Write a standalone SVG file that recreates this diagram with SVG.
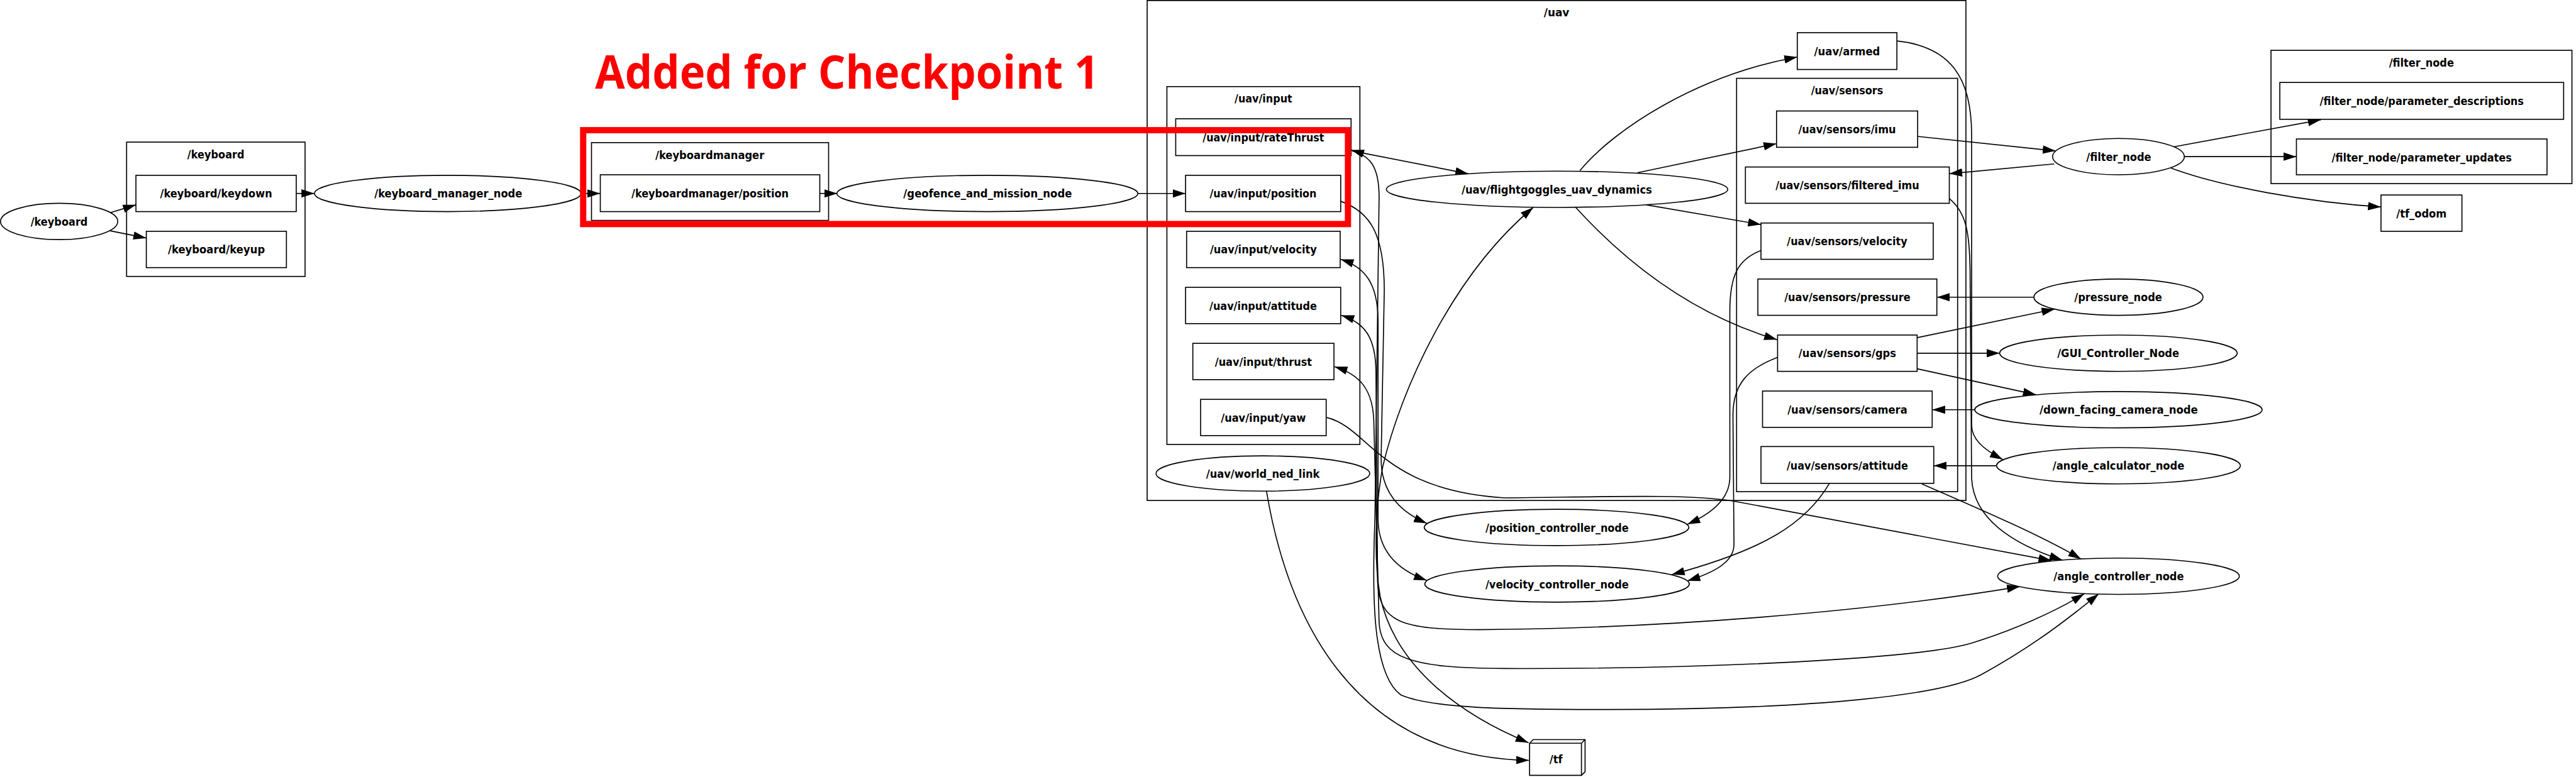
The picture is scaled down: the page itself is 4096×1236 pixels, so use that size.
<svg xmlns="http://www.w3.org/2000/svg" width="4096" height="1236" viewBox="0 0 4096 1236">
<style>
.c{fill:none;stroke:#000;stroke-width:2}
.n{fill:#fff;stroke:#000;stroke-width:2}
.e{fill:none;stroke:#000;stroke-width:2;marker-end:url(#ah)}
.b{marker-start:url(#ah)}
.t{font-family:"DejaVu Sans","Liberation Sans",sans-serif;font-weight:bold;font-size:22px;text-anchor:middle;fill:#000}
</style>
<defs>
<marker id="ah" markerUnits="userSpaceOnUse" markerWidth="26" markerHeight="18" viewBox="0 0 26 18" refX="25" refY="9" orient="auto-start-reverse"><path d="M0,1 L25,9 L0,17 z" fill="#000"/></marker>
</defs>
<rect width="4096" height="1236" fill="#fff"/>
<g transform="scale(0.825)">
<g id="clusters">
<g id="cl_keyboard"><rect class="c" x="244" y="274" width="344" height="259"/><text class="t" x="416" y="306" textLength="110" lengthAdjust="spacingAndGlyphs">/keyboard</text></g>
<g id="cl_keyboardmanager"><rect class="c" x="1140" y="275" width="457" height="150"/><text class="t" x="1368" y="307" textLength="210" lengthAdjust="spacingAndGlyphs">/keyboardmanager</text></g>
<g id="cl_uav"><rect class="c" x="2211" y="1" width="1578" height="964"/><text class="t" x="3000" y="32" textLength="49" lengthAdjust="spacingAndGlyphs">/uav</text></g>
<g id="cl_uav_input"><rect class="c" x="2249" y="167" width="372" height="690"/><text class="t" x="2435" y="198" textLength="111" lengthAdjust="spacingAndGlyphs">/uav/input</text></g>
<g id="cl_uav_sensors"><rect class="c" x="3347" y="151" width="426" height="797"/><text class="t" x="3560" y="182" textLength="139" lengthAdjust="spacingAndGlyphs">/uav/sensors</text></g>
<g id="cl_filter_node"><rect class="c" x="4377" y="97" width="580" height="257"/><text class="t" x="4667" y="129" textLength="125" lengthAdjust="spacingAndGlyphs">/filter_node</text></g>
</g>
<g id="connectors">
<path class="e" d="M210,411 L262,395"/>
<path class="e" d="M212,445 L282,459"/>
<path class="e" d="M571,373 L606,373"/>
<path class="e" d="M1120,373 L1157,373"/>
<path class="e" d="M1580,373 L1614,373"/>
<path class="e" d="M2193,373 L2285,373"/>
<path class="e" d="M2606,291 L2830,335"/>
<path class="e" d="M3045,329 C3110,250 3270,145 3464,110"/>
<path class="e" d="M3156,333 L3424,277"/>
<path class="e" d="M3173,395 L3394,433"/>
<path class="e" d="M3037,400 C3110,480 3240,600 3425,655"/>
<path class="e" d="M2557,805 C2640,825 2660,945 2900,960 C3100,958 3250,952 3340,966 L3954,1081"/>
<path class="e" d="M2584,388 C2640,408 2668,450 2668,560 L2662,880 C2660,950 2700,988 2750,1009"/>
<path class="e b" d="M2584,500 C2630,515 2656,545 2656,620 L2656,1000 C2656,1060 2690,1098 2750,1119"/>
<path class="e b" d="M2585,608 C2630,622 2652,650 2652,720 L2655,1120 C2658,1200 2700,1214 2850,1214 C3200,1212 3600,1180 3893,1131"/>
<path class="e b" d="M2572,707 C2620,722 2648,750 2648,820 L2658,1200 C2662,1270 2720,1288 2900,1289 C3300,1290 3700,1270 3800,1240 C3880,1215 3960,1180 4017,1145"/>
<path class="e b" d="M2604,289 C2640,300 2658,320 2658,380 L2650,1000 C2644,1150 2645,1300 2700,1340 C2760,1366 2900,1368 3100,1368 C3500,1368 3750,1340 3820,1300 C3920,1245 3990,1190 4045,1145"/>
<path class="e b" d="M2955,400 C2800,530 2700,750 2665,900 C2650,980 2648,1080 2660,1150 C2690,1290 2820,1380 2946,1432"/>
<path class="e" d="M2441,947 C2480,1180 2600,1460 2947,1466"/>
<path class="e" d="M3394,483 C3350,500 3334,530 3334,600 L3334,920 C3334,960 3300,990 3252,1011"/>
<path class="e" d="M3426,689 C3370,710 3340,740 3340,800 L3342,1050 C3342,1085 3300,1105 3252,1120"/>
<path class="e" d="M3526,932 C3480,1010 3400,1060 3222,1108"/>
<path class="e" d="M3704,933 C3800,975 3930,1030 4011,1078"/>
<path class="e" d="M3656,79 C3760,90 3800,150 3800,260 L3800,820 C3800,845 3820,865 3860,886"/>
<path class="e" d="M3757,383 C3790,410 3796,450 3797,520 L3800,920 C3802,1000 3880,1050 3975,1080"/>
<path class="e" d="M3696,263 L3962,291"/>
<path class="e" d="M3959,316 L3757,335"/>
<path class="e" d="M4190,283 L4473,231"/>
<path class="e" d="M4210,302 L4426,302"/>
<path class="e" d="M4184,324 C4280,360 4450,390 4589,399"/>
<path class="e" d="M3920,573 L3733,573"/>
<path class="e" d="M3695,651 L3960,596"/>
<path class="e" d="M3695,681 L3854,681"/>
<path class="e" d="M3695,711 L3924,761"/>
<path class="e" d="M3806,790 L3724,790"/>
<path class="e" d="M3848,898 L3727,898"/>
</g>
<g id="n_keyboard"><ellipse class="n" cx="114" cy="427" rx="113" ry="35"/><text class="t" x="114" y="435" textLength="110" lengthAdjust="spacingAndGlyphs">/keyboard</text></g>
<g id="n_keyboard_keydown"><rect class="n" x="262" y="338" width="309" height="70"/><text class="t" x="416.5" y="381" textLength="216" lengthAdjust="spacingAndGlyphs">/keyboard/keydown</text></g>
<g id="n_keyboard_keyup"><rect class="n" x="282" y="446" width="270" height="70"/><text class="t" x="417" y="489" textLength="187" lengthAdjust="spacingAndGlyphs">/keyboard/keyup</text></g>
<g id="n_keyboard_manager_node"><ellipse class="n" cx="863" cy="373" rx="257" ry="35"/><text class="t" x="864" y="381" textLength="285" lengthAdjust="spacingAndGlyphs">/keyboard_manager_node</text></g>
<g id="n_keyboardmanager_position"><rect class="n" x="1157" y="337" width="423" height="71"/><text class="t" x="1368.5" y="381" textLength="303" lengthAdjust="spacingAndGlyphs">/keyboardmanager/position</text></g>
<g id="n_geofence"><ellipse class="n" cx="1903" cy="373" rx="290" ry="35"/><text class="t" x="1903.5" y="381" textLength="325" lengthAdjust="spacingAndGlyphs">/geofence_and_mission_node</text></g>
<g id="n_input_rateThrust"><rect class="n" x="2266" y="229" width="338" height="71"/><text class="t" x="2435" y="273" textLength="234" lengthAdjust="spacingAndGlyphs">/uav/input/rateThrust</text></g>
<g id="n_input_position"><rect class="n" x="2285" y="338" width="299" height="70"/><text class="t" x="2434.5" y="381" textLength="206" lengthAdjust="spacingAndGlyphs">/uav/input/position</text></g>
<g id="n_input_velocity"><rect class="n" x="2287" y="446" width="296" height="70"/><text class="t" x="2435" y="489" textLength="206" lengthAdjust="spacingAndGlyphs">/uav/input/velocity</text></g>
<g id="n_input_attitude"><rect class="n" x="2285" y="554" width="299" height="70"/><text class="t" x="2434.5" y="597" textLength="207" lengthAdjust="spacingAndGlyphs">/uav/input/attitude</text></g>
<g id="n_input_thrust"><rect class="n" x="2299" y="662" width="272" height="70"/><text class="t" x="2435" y="705" textLength="187" lengthAdjust="spacingAndGlyphs">/uav/input/thrust</text></g>
<g id="n_input_yaw"><rect class="n" x="2314" y="770" width="242" height="70"/><text class="t" x="2435" y="813" textLength="164" lengthAdjust="spacingAndGlyphs">/uav/input/yaw</text></g>
<g id="n_world_ned_link"><ellipse class="n" cx="2434" cy="913" rx="206" ry="34"/><text class="t" x="2434" y="921" textLength="219" lengthAdjust="spacingAndGlyphs">/uav/world_ned_link</text></g>
<g id="n_flightgoggles"><ellipse class="n" cx="3001" cy="365" rx="329" ry="35"/><text class="t" x="3000.5" y="373" textLength="367" lengthAdjust="spacingAndGlyphs">/uav/flightgoggles_uav_dynamics</text></g>
<g id="n_uav_armed"><rect class="n" x="3464" y="63" width="192" height="71"/><text class="t" x="3560" y="107" textLength="127" lengthAdjust="spacingAndGlyphs">/uav/armed</text></g>
<g id="n_sensors_imu"><rect class="n" x="3424" y="214" width="272" height="70"/><text class="t" x="3560" y="257" textLength="188" lengthAdjust="spacingAndGlyphs">/uav/sensors/imu</text></g>
<g id="n_sensors_filtered_imu"><rect class="n" x="3364" y="322" width="393" height="70"/><text class="t" x="3560.5" y="365" textLength="277" lengthAdjust="spacingAndGlyphs">/uav/sensors/filtered_imu</text></g>
<g id="n_sensors_velocity"><rect class="n" x="3394" y="430" width="332" height="70"/><text class="t" x="3560" y="473" textLength="232" lengthAdjust="spacingAndGlyphs">/uav/sensors/velocity</text></g>
<g id="n_sensors_pressure"><rect class="n" x="3388" y="538" width="345" height="70"/><text class="t" x="3560.5" y="581" textLength="243" lengthAdjust="spacingAndGlyphs">/uav/sensors/pressure</text></g>
<g id="n_sensors_gps"><rect class="n" x="3426" y="646" width="269" height="70"/><text class="t" x="3560.5" y="689" textLength="188" lengthAdjust="spacingAndGlyphs">/uav/sensors/gps</text></g>
<g id="n_sensors_camera"><rect class="n" x="3397" y="754" width="327" height="70"/><text class="t" x="3560.5" y="797" textLength="231" lengthAdjust="spacingAndGlyphs">/uav/sensors/camera</text></g>
<g id="n_sensors_attitude"><rect class="n" x="3394" y="861" width="333" height="71"/><text class="t" x="3560.5" y="905" textLength="234" lengthAdjust="spacingAndGlyphs">/uav/sensors/attitude</text></g>
<g id="n_position_controller"><ellipse class="n" cx="3000" cy="1017" rx="255" ry="35"/><text class="t" x="3001" y="1025" textLength="276" lengthAdjust="spacingAndGlyphs">/position_controller_node</text></g>
<g id="n_velocity_controller"><ellipse class="n" cx="3001" cy="1126" rx="255" ry="35"/><text class="t" x="3001" y="1134" textLength="276" lengthAdjust="spacingAndGlyphs">/velocity_controller_node</text></g>
<g id="n_tf"><polygon class="n" points="2948,1433 2955,1426 3055,1426 3055,1488 3048,1495 2948,1495"/><path class="c" d="M2948,1433 L3048,1433 L3048,1495 M3048,1433 L3055,1426"/><text class="t" x="2999" y="1472" textLength="25" lengthAdjust="spacingAndGlyphs">/tf</text></g>
<g id="n_filter_node"><ellipse class="n" cx="4083" cy="302" rx="127" ry="35"/><text class="t" x="4083.5" y="310" textLength="125" lengthAdjust="spacingAndGlyphs">/filter_node</text></g>
<g id="n_param_desc"><rect class="n" x="4394" y="159" width="547" height="71"/><text class="t" x="4667.5" y="203" textLength="393" lengthAdjust="spacingAndGlyphs">/filter_node/parameter_descriptions</text></g>
<g id="n_param_updates"><rect class="n" x="4426" y="268" width="483" height="69"/><text class="t" x="4667.5" y="311" textLength="347" lengthAdjust="spacingAndGlyphs">/filter_node/parameter_updates</text></g>
<g id="n_tf_odom"><rect class="n" x="4589" y="376" width="156" height="70"/><text class="t" x="4667" y="419" textLength="97" lengthAdjust="spacingAndGlyphs">/tf_odom</text></g>
<g id="n_pressure_node"><ellipse class="n" cx="4083" cy="573" rx="163" ry="35"/><text class="t" x="4082.5" y="581" textLength="169" lengthAdjust="spacingAndGlyphs">/pressure_node</text></g>
<g id="n_gui_controller"><ellipse class="n" cx="4083" cy="681" rx="229" ry="35"/><text class="t" x="4082.5" y="689" textLength="235" lengthAdjust="spacingAndGlyphs">/GUI_Controller_Node</text></g>
<g id="n_down_facing_camera"><ellipse class="n" cx="4083" cy="790" rx="277" ry="35"/><text class="t" x="4083.5" y="798" textLength="305" lengthAdjust="spacingAndGlyphs">/down_facing_camera_node</text></g>
<g id="n_angle_calculator"><ellipse class="n" cx="4083" cy="898" rx="235" ry="35"/><text class="t" x="4083" y="906" textLength="254" lengthAdjust="spacingAndGlyphs">/angle_calculator_node</text></g>
<g id="n_angle_controller"><ellipse class="n" cx="4083" cy="1111" rx="233" ry="35"/><text class="t" x="4083.5" y="1119" textLength="251" lengthAdjust="spacingAndGlyphs">/angle_controller_node</text></g>
<g id="annotation">
<rect x="1124" y="251" width="1474" height="181" fill="none" stroke="#ff0000" stroke-width="12"/>
<text x="1147" y="171" font-family="'Open Sans','Noto Sans',sans-serif" font-weight="bold" font-size="90" fill="#ff0000" textLength="971" lengthAdjust="spacingAndGlyphs">Added for Checkpoint 1</text>
</g>
</g>
</svg>
